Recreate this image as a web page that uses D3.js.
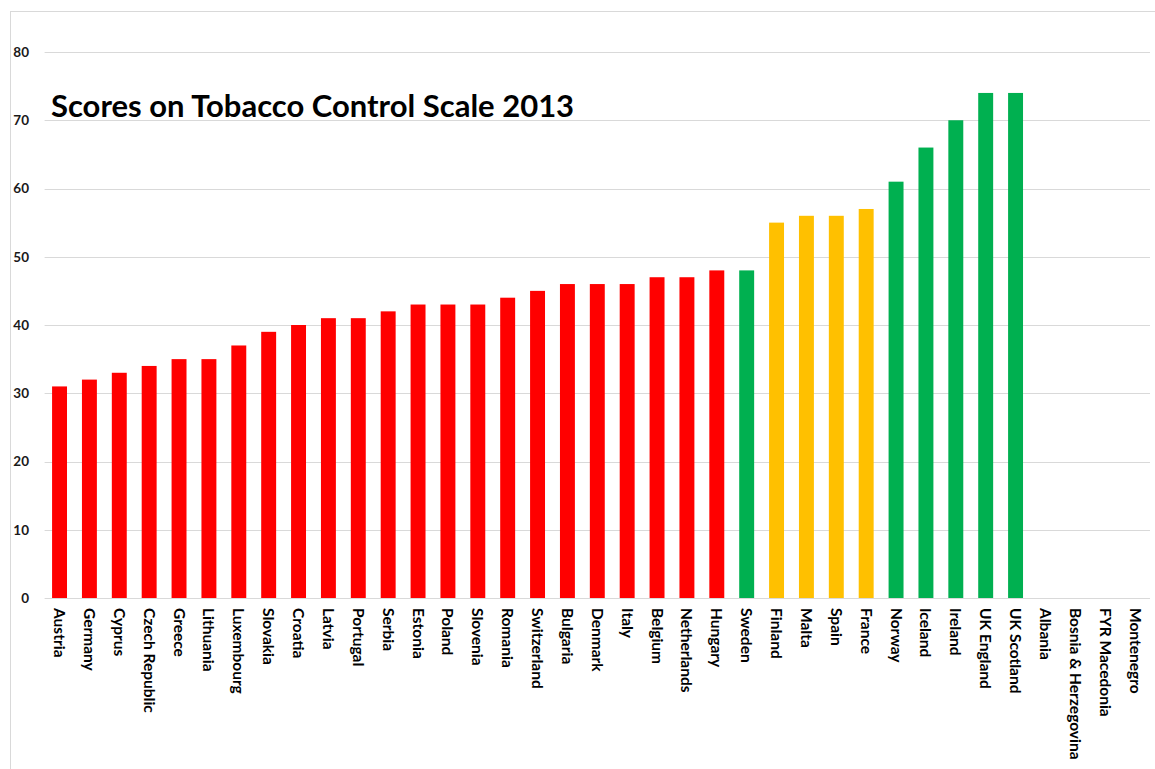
<!DOCTYPE html>
<html>
<head>
<meta charset="utf-8">
<script src="https://cdn.jsdelivr.net/npm/d3@7"></script>
<style>
  body { margin: 0; background: #fff; }
  svg { display: block; }
</style>
</head>
<body>
<script>
// chart size
var w = 1155;
var h = 769;

// categories in the order they appear
var countries = ["Austria", "Germany", "Cyprus", "Czech Republic", "Greece", "Lithuania",
  "Luxembourg", "Slovakia", "Croatia", "Latvia", "Portugal", "Serbia", "Estonia", "Poland",
  "Slovenia", "Romania", "Switzerland", "Bulgaria", "Denmark", "Italy", "Belgium",
  "Netherlands", "Hungary", "Sweden", "Finland", "Malta", "Spain", "France", "Norway",
  "Iceland", "Ireland", "UK England", "UK Scotland", "Albania", "Bosnia & Herzegovina",
  "FYR Macedonia", "Montenegro"];

// scores (null = no score)
var scores = [31, 32, 33, 34, 35, 35, 37, 39, 40, 41, 41, 42, 43, 43, 43, 44, 45, 46, 46, 46,
  47, 47, 48, 48, 55, 56, 56, 57, 61, 66, 70, 74, 74, null, null, null, null];

// colour group of each bar
var groups = ["r", "r", "r", "r", "r", "r", "r", "r", "r", "r", "r", "r", "r", "r", "r", "r",
  "r", "r", "r", "r", "r", "r", "r", "g", "y", "y", "y", "y", "g", "g", "g", "g", "g",
  null, null, null, null];

var yTicks = [0, 10, 20, 30, 40, 50, 60, 70, 80];
var title = "Scores on Tobacco Control Scale 2013";

var colors = { r: "#FF0000", y: "#FFC000", g: "#00B050" };

var data = countries.map(function(c, i) {
  return { name: c, value: scores[i], group: groups[i] };
});

var svg = d3.select("body")
  .append("svg")
  .attr("width", w)
  .attr("height", h);

// chart border
svg.append("rect")
  .attr("x", 10.5)
  .attr("y", 11.5)
  .attr("width", w + 20)
  .attr("height", h + 20)
  .attr("fill", "none")
  .attr("stroke", "#d9d9d9");

var x = d3.scaleBand()
  .domain(countries)
  .range([44.6, 1150])
  .paddingInner(0.5)
  .paddingOuter(0.25);

var y = d3.scaleLinear()
  .domain([0, 80])
  .range([598, 52]);

// gridlines
svg.append("g")
  .selectAll("line")
  .data(yTicks)
  .enter().append("line")
  .attr("x1", 44.6)
  .attr("x2", 1150)
  .attr("y1", function(d) { return Math.round(y(d)) + 0.5; })
  .attr("y2", function(d) { return Math.round(y(d)) + 0.5; })
  .attr("stroke", "#d9d9d9")
  .attr("stroke-width", 1);

// y axis labels
var yAxis = svg.append("g")
  .attr("transform", "translate(29,0)")
  .call(d3.axisLeft(y).tickValues(yTicks).tickSize(0).tickPadding(0));
yAxis.select(".domain").remove();
yAxis.selectAll("text")
  .attr("font-family", "Lato, 'Open Sans', sans-serif")
  .attr("font-weight", "bold")
  .attr("font-size", 13.5)
  .attr("fill", "#1a1a1a");

// bars
svg.append("g")
  .selectAll("rect")
  .data(data.filter(function(d) { return d.value != null; }))
  .enter().append("rect")
  .attr("x", function(d) { return x(d.name); })
  .attr("width", x.bandwidth())
  .attr("y", function(d) { return y(d.value); })
  .attr("height", function(d) { return y(0) - y(d.value); })
  .attr("fill", function(d) { return colors[d.group]; });

// x axis labels, rotated
var xAxis = svg.append("g")
  .attr("transform", "translate(0," + y(0) + ")")
  .call(d3.axisBottom(x).tickSize(0).tickPadding(0));
xAxis.select(".domain").remove();
xAxis.selectAll("text")
  .attr("font-family", "Lato, 'Open Sans', sans-serif")
  .attr("font-weight", "bold")
  .attr("font-size", 15.5)
  .attr("fill", "#000")
  .attr("text-anchor", "start")
  .attr("transform", "rotate(90)")
  .attr("x", 10)
  .attr("y", 0)
  .attr("dy", "0.35em");

// title
svg.append("text")
  .attr("x", 51)
  .attr("y", 117)
  .attr("font-family", "Lato, 'Open Sans', sans-serif")
  .attr("font-weight", "bold")
  .attr("font-size", 31)
  .attr("fill", "#000")
  .text(title);
</script>
</body>
</html>
